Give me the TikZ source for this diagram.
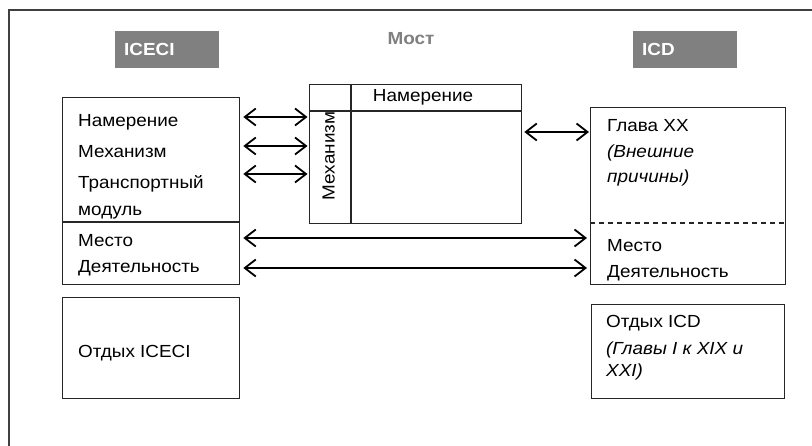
\documentclass[tikz,border=0pt]{standalone}
\usepackage{fontspec}
\setmainfont[FakeStretch=1.08]{Liberation Sans}
\usetikzlibrary{arrows.meta}
\definecolor{frame}{HTML}{404040}
\definecolor{titlegray}{HTML}{808080}
\begin{document}
\begin{tikzpicture}[x=1pt,y=-1pt,
  box/.style={draw=black!85, line width=1.3pt, inner sep=0pt, anchor=north west},
  sep/.style={draw=black!85, line width=1.3pt},
  lbl/.style={font=\fontsize{17.5}{20}\selectfont, anchor=west, inner sep=0pt, text height=13pt, text depth=4pt},
  titlebox/.style={fill=titlegray, text=white, font=\fontsize{17.5}{20}\selectfont\bfseries, anchor=north west,
    inner xsep=9pt, inner ysep=0pt, text width=86pt, align=left, minimum height=37pt},
  arr/.style={line width=1.8pt, <->, >={Straight Barb[length=11pt,width=17pt]}},
]
\useasboundingbox (0,0) rectangle (812,446);
\fill[white] (0,0) rectangle (812,446);
% outer frame (runs out of the picture to the right and bottom)
\draw[frame, line width=1.8pt] (9,446) -- (9,10) -- (812,10);

% titles
\node[titlebox] (iceci) at (115,31) {ICECI};
\node[titlebox] (icd) at (633,31) {ICD};
\node[font=\fontsize{17.5}{20}\selectfont\bfseries, text=titlegray, inner sep=0pt] (most) at (411,39) {Мост};

% left boxes
\node[box, minimum width=177pt, minimum height=187pt] (L) at (62,97) {};
\draw[sep] (L.west |- 0,222) -- (L.east |- 0,222);
\node[box, minimum width=177pt, minimum height=101pt] (LR) at (62,297) {};

% middle bridge box
\node[box, minimum width=212pt, minimum height=139pt] (M) at (309,84) {};
\draw[sep] (M.west |- 0,111) -- (M.east |- 0,111);
\draw[sep] (351,84) -- (351,223);

% right boxes
\node[box, minimum width=195pt, minimum height=177pt] (R) at (590,107) {};
\draw[draw=black!85, line width=1.1pt, dash pattern=on 5pt off 4pt] (R.west |- 0,223) -- (R.east |- 0,223);
\node[box, minimum width=193pt, minimum height=94pt] (RR) at (591,304) {};

% texts, left
\node[lbl] (l1) at (78,122) {Намерение};
\node[lbl] (l2) at (78,153) {Механизм};
\node[lbl] (l3) at (78,184) {Транспортный};
\node[lbl] (l4) at (78,211) {модуль};
\node[lbl] (l5) at (78,242) {Место};
\node[lbl] (l6) at (78,268) {Деятельность};
\node[lbl] (l7) at (78,353) {Отдых ICECI};

% texts, middle
\node[lbl, anchor=center] (m1) at (423,97) {Намерение};
\node[lbl, anchor=center, rotate=90] (m2) at (330,156) {Механизм};

% texts, right
\node[lbl] (r1) at (607,127) {Глава XX};
\node[lbl] (r2) at (607,153) {\itshape (Внешние};
\node[lbl] (r3) at (607,178) {\itshape причины)};
\node[lbl] (r4) at (607,247) {Место};
\node[lbl] (r5) at (607,273) {Деятельность};
\node[lbl] (r6) at (606,323) {Отдых ICD};
\node[lbl] (r7) at (606,350) {\itshape (Главы I к XIX и};
\node[lbl] (r8) at (606,372) {\itshape XXI)};

% connectors
\coordinate (a1) at (0,117);
\coordinate (a2) at (0,146);
\coordinate (a3) at (0,174);
\coordinate (a4) at (0,132);
\coordinate (a5) at (0,238);
\coordinate (a6) at (0,268);
\draw[arr, shorten <=3pt, shorten >=1.5pt] (L.east |- a1) -- (M.west |- a1);
\draw[arr, shorten <=3pt, shorten >=1.5pt] (L.east |- a2) -- (M.west |- a2);
\draw[arr, shorten <=3pt, shorten >=1.5pt] (L.east |- a3) -- (M.west |- a3);
\draw[arr, shorten <=2pt, shorten >=1pt] (M.east |- a4) -- (R.west |- a4);
\draw[arr, shorten <=3pt, shorten >=3pt] (L.east |- a5) -- (R.west |- a5);
\draw[arr, shorten <=3pt, shorten >=3pt] (L.east |- a6) -- (R.west |- a6);
\end{tikzpicture}
\end{document}
